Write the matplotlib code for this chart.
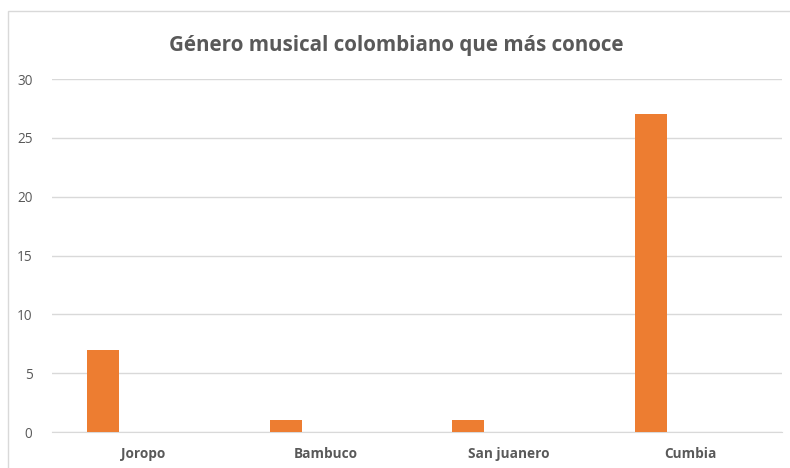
import matplotlib.pyplot as plt
from matplotlib.patches import Rectangle
import numpy as np

# Chart data
genres = ['Joropo', 'Bambuco', 'San juanero', 'Cumbia']
counts = [7, 1, 1, 27]
y_ticks = [0, 5, 10, 15, 20, 25, 30]

W, H = 790, 468
fig = plt.figure(figsize=(W / 100, H / 100), dpi=100)
plt.rcParams['font.family'] = ['Open Sans', 'DejaVu Sans']

# Plot area in pixel coordinates of the reference
left, right, top, bottom = 52, 782, 79, 432
ax = fig.add_axes([left / W, 1 - bottom / H, (right - left) / W, (bottom - top) / H])

x = np.arange(len(genres))
# bars sit left of the category centre (clustered chart, second series empty)
ax.bar(x - 0.219, counts, width=0.175, color='#ED7D31', zorder=3)

ax.set_xlim(-0.5, len(genres) - 0.5)
ax.set_ylim(0, 30)
ax.set_yticks(y_ticks)
ax.set_xticks(x)
ax.set_xticklabels(genres, fontweight='bold')
ax.yaxis.grid(True, color='#D9D9D9', linewidth=1, zorder=0)
ax.tick_params(axis='both', length=0, colors='#595959', labelsize=9.8)
ax.tick_params(axis='y', pad=14)
ax.tick_params(axis='x', pad=11)
for side in ['top', 'right', 'left']:
    ax.spines[side].set_visible(False)
ax.spines['bottom'].set_color('#D9D9D9')

fig.text(396 / W, 1 - 45 / H, 'Género musical colombiano que más conoce',
         ha='center', va='center', fontsize=14.9, fontweight='bold', color='#595959')

# outer chart border
fig.patches.append(Rectangle((8 / W, -0.01), 1.0, 1 - 11 / H + 0.01, transform=fig.transFigure,
                             fill=False, edgecolor='#D9D9D9', linewidth=1))

plt.savefig('out.png', dpi=100)
